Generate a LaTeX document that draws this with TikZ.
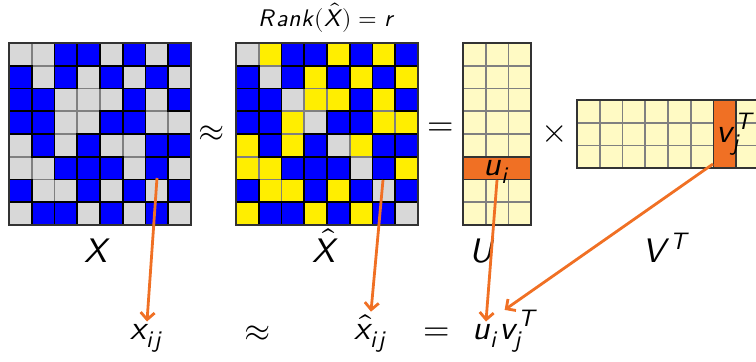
\documentclass[tikz,border=0pt]{standalone}
\usepackage{unicode-math}
\setmathfont{Latin Modern Math}
\usetikzlibrary{arrows.meta,calc,positioning}
\definecolor{cellblue}{RGB}{0,0,255}
\definecolor{cellgray}{RGB}{216,216,216}
\definecolor{cellyellow}{RGB}{255,238,0}
\definecolor{cellcream}{RGB}{255,250,196}
\definecolor{pickorange}{RGB}{240,112,36}
\definecolor{gridgray}{RGB}{128,128,128}
\newcommand{\cellsize}{22.75}
\newcommand{\sv}[1]{\mathsfit{#1}}
\tikzset{
  cell0/.style={fill=cellgray,draw=gridgray,line width=.9pt},
  cell1/.style={fill=cellblue,draw=black,line width=.9pt},
  cell2/.style={fill=cellyellow,draw=gridgray,line width=.9pt},
  cream cell/.style={fill=cellcream,draw=gridgray,line width=.9pt},
  picked/.style={fill=pickorange,draw=black!80,line width=.9pt},
  frame/.style={draw=black!80,line width=.9pt},
  big label/.style={font=\fontsize{17}{19}\selectfont,inner sep=1pt},
  small label/.style={font=\fontsize{12}{14}\selectfont,inner sep=1pt},
  link/.style={draw=pickorange,line width=1.4pt,-{Straight Barb[length=3.5pt,width=7pt]}}
}
\newcommand{\maskrows}{{0,0,1,1,0,1,0,1},{1,0,1,0,1,0,1,0},{1,1,0,0,0,1,0,1},{1,1,0,0,1,1,0,0},
  {0,1,0,1,0,0,1,1},{0,0,1,1,1,0,1,0},{1,0,0,1,0,1,0,1},{0,1,1,0,1,0,1,0}}

\begin{document}
\begin{tikzpicture}[x=0.5pt,y=-0.5pt,line cap=butt,line join=miter]
  \useasboundingbox (0,0) rectangle (756,361);

  % observed matrix X (gray = missing)
  \foreach \pass in {0,1} {
    \foreach \pat [count=\r from 0] in \maskrows {
      \foreach \v [count=\c from 0] in \pat {
        \ifnum\v=\pass
          \draw[cell\v] (9+\c*\cellsize,43+\r*\cellsize) rectangle ++(\cellsize,\cellsize);
        \fi
      }
    }
  }
  \draw[frame] (9,43) rectangle ++(8*\cellsize,8*\cellsize);

  % completed matrix (yellow = filled in)
  \foreach \pass in {0,1} {
    \foreach \pat [count=\r from 0] in \maskrows {
      \foreach \v [count=\c from 0] in \pat {
        \ifnum\v=\pass
          \ifnum\r=\c
            \draw[cell0] (236+\c*\cellsize,43+\r*\cellsize) rectangle ++(\cellsize,\cellsize);
          \else
            \ifnum\v=0
              \draw[cell2] (236+\c*\cellsize,43+\r*\cellsize) rectangle ++(\cellsize,\cellsize);
            \else
              \draw[cell1] (236+\c*\cellsize,43+\r*\cellsize) rectangle ++(\cellsize,\cellsize);
            \fi
          \fi
        \fi
      }
    }
  }
  \draw[frame] (236,43) rectangle ++(8*\cellsize,8*\cellsize);

  % factor U
  \foreach \r in {0,...,7}
    \foreach \c in {0,1,2}
      \draw[cream cell] (463+\c*\cellsize,43+\r*\cellsize) rectangle ++(\cellsize,\cellsize);
  \draw[picked] (463,43+5*\cellsize) rectangle ++(3*\cellsize,\cellsize);
  \draw[frame] (463,43) rectangle ++(3*\cellsize,8*\cellsize);

  % factor V^T
  \foreach \r in {0,1,2}
    \foreach \c in {0,...,7}
      \draw[cream cell] (577+\c*\cellsize,100+\r*\cellsize) rectangle ++(\cellsize,\cellsize);
  \draw[picked] (577+6*\cellsize,100) rectangle ++(\cellsize,3*\cellsize);
  \draw[frame] (577,100) rectangle ++(8*\cellsize,3*\cellsize);

  % labels of the top row
  \node[small label] (rank) at (327,18) {$\sv{Rank}(\hat{\sv{X}}) = \sv{r}$};
  \node[big label] (approxtop) at (212,134) {$\approx$};
  \node[big label] (eqtop) at (441,129) {$=$};
  \node[big label] (times) at (555,134) {$\times$};
  \node[big label,anchor=base] (Xlab) at (98,262) {$\sv{X}$};
  \node[big label,anchor=base] (Xhatlab) at (326,262) {$\hat{\sv{X}}$};
  \node[big label,anchor=base] (Ulab) at (483,262) {$\sv{U}$};
  \node[big label,anchor=base] (VTlab) at (667,262) {$\sv{V}^{\sv{T}}$};
  \node[big label,anchor=base] (ui) at (497,175) {$\sv{u}_{\sv{i}}$};
  \node[big label,anchor=base west] (vj) at (714,142) {$\sv{v}_{\sv{j}}^{\sv{T}}$};

  % entries of the bottom row
  \node[big label,anchor=base] (xij) at (147,339) {$\sv{x}_{\sv{ij}}$};
  \node[big label] (approxbot) at (258,334) {$\approx$};
  \node[big label,anchor=base] (xhatij) at (371,339) {$\hat{\sv{x}}_{\sv{ij}}$};
  \node[big label] (eqbot) at (437,334) {$=$};
  \node[big label,anchor=base] (ubot) at (486,339) {$\sv{u}_{\sv{i}}$};
  \node[big label,anchor=base west] (vbot) at ($(ubot.base east)+(-5,0)$) {$\sv{v}_{\sv{j}}^{\sv{T}}$};

  % picked entries
  \coordinate (xcell) at (157,178);
  \coordinate (xhatcell) at (383,180);
  \coordinate (urow) at (497,180);
  \coordinate (vcol) at (713,164);

  \draw[link] (xcell) -- (xij.north);
  \draw[link] (xhatcell) -- (xhatij.north);
  \draw[link] (urow) -- (ubot.north);
  \draw[link] (vcol) -- ($(vbot.north west)+(8,2)$);
\end{tikzpicture}
\end{document}
